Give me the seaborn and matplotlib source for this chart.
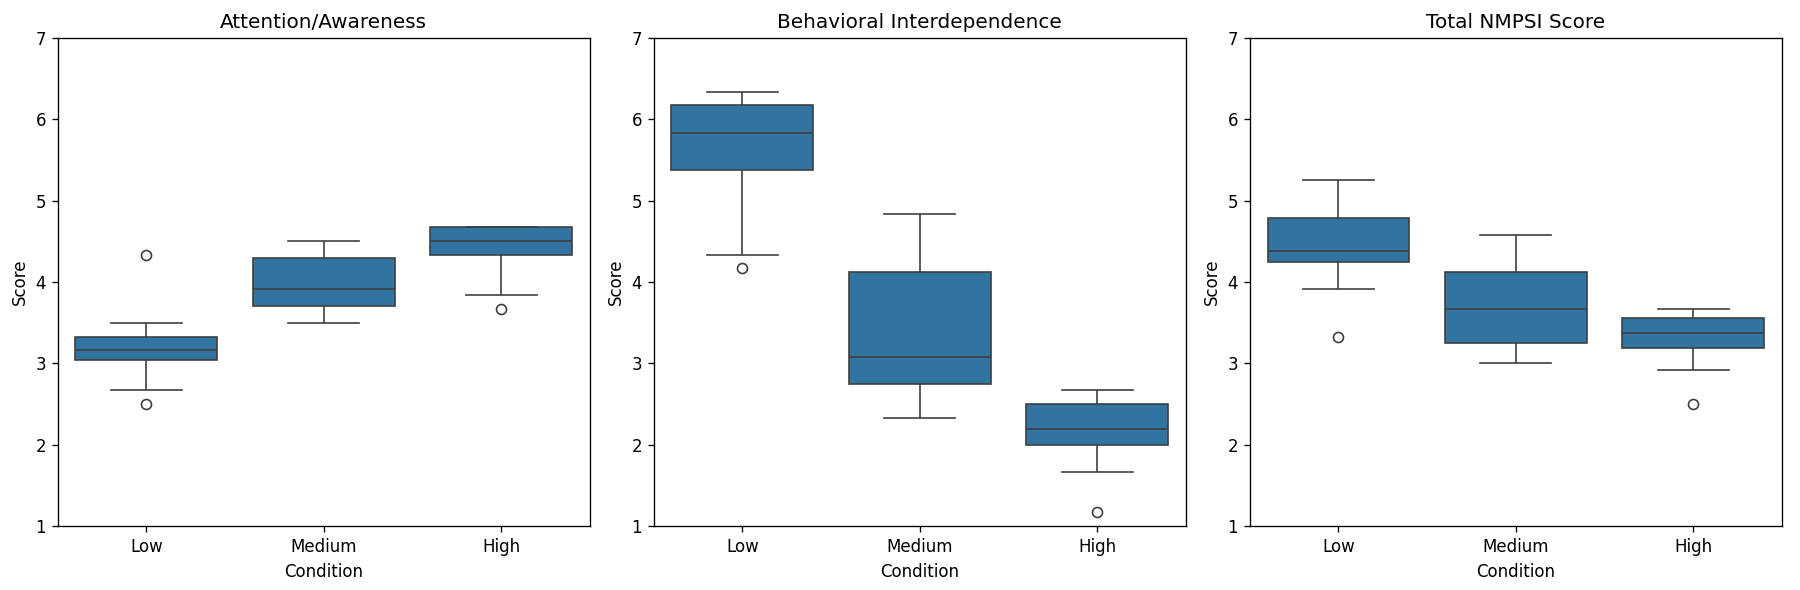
import pandas as pd
import matplotlib.pyplot as plt
import seaborn as sns

conditions = ["Low", "Medium", "High"]
panel_titles = ["Attention/Awareness", "Behavioral Interdependence", "Total NMPSI Score"]

# Per-participant scores (9 per condition)
attention_low = [2.5, 2.67, 3.04, 3.1, 3.17, 3.25, 3.33, 3.5, 4.33]
attention_medium = [3.5, 3.67, 3.71, 3.83, 3.92, 4.0, 4.29, 4.42, 4.5]
attention_high = [3.67, 3.84, 4.33, 4.42, 4.5, 4.58, 4.67, 4.67, 4.67]

behavioral_low = [4.17, 4.33, 5.375, 5.67, 5.83, 6.0, 6.17, 6.25, 6.33]
behavioral_medium = [2.33, 2.5, 2.75, 2.92, 3.08, 3.5, 4.125, 4.5, 4.83]
behavioral_high = [1.17, 1.67, 2.0, 2.08, 2.19, 2.33, 2.5, 2.58, 2.67]

total_low = [3.33, 3.92, 4.25, 4.33, 4.38, 4.58, 4.79, 5.0, 5.25]
total_medium = [3.0, 3.17, 3.25, 3.5, 3.67, 3.92, 4.125, 4.33, 4.58]
total_high = [2.5, 2.92, 3.19, 3.25, 3.38, 3.5, 3.56, 3.6, 3.67]

panels = [
    [attention_low, attention_medium, attention_high],
    [behavioral_low, behavioral_medium, behavioral_high],
    [total_low, total_medium, total_high],
]

DPI = 120
fig, axes = plt.subplots(1, 3, figsize=(1800 / DPI, 590 / DPI), dpi=DPI)

for ax, title, groups in zip(axes, panel_titles, panels):
    rows = []
    for cond, vals in zip(conditions, groups):
        for v in vals:
            rows.append({"Condition": cond, "Score": v})
    df = pd.DataFrame(rows)
    sns.boxplot(data=df, x="Condition", y="Score", order=conditions, ax=ax)
    ax.set_ylim(1, 7)
    ax.set_title(title, fontsize=12)
    ax.set_xlabel("Condition")
    ax.set_ylabel("Score")

plt.subplots_adjust(left=0.032, right=0.99, top=0.936, bottom=0.108, wspace=0.12)
plt.savefig("out.png", dpi=DPI)
